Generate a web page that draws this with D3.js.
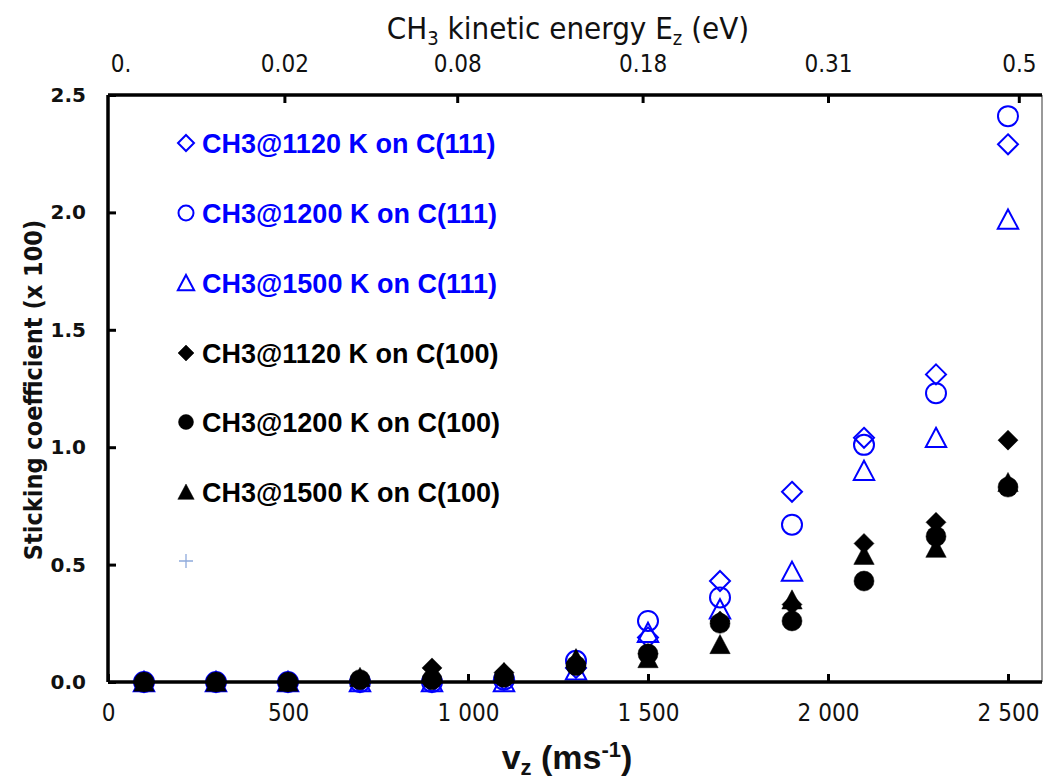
<!DOCTYPE html>
<html>
<head>
<meta charset="utf-8">
<script src="https://cdn.jsdelivr.net/npm/d3@7"></script>
<style>
  html, body { margin: 0; padding: 0; background: #fff; }
  svg { display: block; }
</style>
</head>
<body>
<svg id="chart" width="1044" height="779"></svg>
<script>
// ---------------- data ----------------
const velocities = [100, 300, 500, 700, 900, 1100, 1300, 1500, 1700, 1900, 2100, 2300, 2500];

const c111_1120 = [0, 0, 0, 0, 0, 0.01, 0.06, 0.19, 0.43, 0.81, 1.04, 1.31, 2.29];
const c111_1200 = [0, 0, 0, 0, 0, 0.01, 0.09, 0.26, 0.36, 0.67, 1.01, 1.23, 2.41];
const c111_1500 = [0, 0, 0, 0, 0, 0, 0.05, 0.21, 0.31, 0.47, 0.90, 1.04, 1.97];
const c100_1120 = [0, 0, 0, 0.01, 0.06, 0.04, 0.08, 0.12, 0.26, 0.33, 0.59, 0.68, 1.03];
const c100_1200 = [0, 0, 0, 0.01, 0.01, 0.02, 0.07, 0.12, 0.25, 0.26, 0.43, 0.62, 0.83];
const c100_1500 = [0, 0, 0, 0.02, 0.04, 0.04, 0.10, 0.10, 0.16, 0.35, 0.54, 0.57, 0.85];

const seriesNames = [
  "CH3@1120 K on C(111)", "CH3@1200 K on C(111)", "CH3@1500 K on C(111)",
  "CH3@1120 K on C(100)", "CH3@1200 K on C(100)", "CH3@1500 K on C(100)"
];

const yTicks = [0, 0.5, 1.0, 1.5, 2.0, 2.5];
const xTicks = [0, 500, 1000, 1500, 2000, 2500];
const topTickLabels = ["0.", "0.02", "0.08", "0.18", "0.31", "0.5"];
const topTickV = [35, 490, 970, 1485, 2000, 2530];

// ---------------- layout ----------------
const svg = d3.select("#chart");
const pL = 108, pR = 1044, pT = 95, pB = 682;

const x = d3.scaleLinear().domain([0, 2600]).range([pL, pR]);
const y = d3.scaleLinear().domain([0, 2.5]).range([pB, pT]);

const BLUE = "#0000ff";
const seriesStyle = [
  { shape: "diamond", filled: false, color: BLUE },
  { shape: "circle", filled: false, color: BLUE },
  { shape: "triangle", filled: false, color: BLUE },
  { shape: "diamond", filled: true, color: "#000" },
  { shape: "circle", filled: true, color: "#000" },
  { shape: "triangle", filled: true, color: "#000" }
];
const seriesData = [c111_1120, c111_1200, c111_1500, c100_1120, c100_1200, c100_1500];

function shapePath(shape, r) {
  const p = d3.path();
  if (shape === "circle") {
    p.arc(0, 0, r, 0, 2 * Math.PI);
  } else if (shape === "diamond") {
    p.moveTo(0, -r); p.lineTo(r, 0); p.lineTo(0, r); p.lineTo(-r, 0); p.closePath();
  } else if (shape === "triangle") {
    p.moveTo(0, -r); p.lineTo(r * 1.02, r * 0.92); p.lineTo(-r * 1.02, r * 0.92); p.closePath();
  } else if (shape === "plus") {
    p.moveTo(-r, 0); p.lineTo(r, 0); p.moveTo(0, -r); p.lineTo(0, r);
  }
  return p.toString();
}
const markerR = { circle: 10, diamond: 10, triangle: 10 };

// frame (right border thin)
svg.append("line").attr("x1", pR - 2).attr("x2", pR - 2).attr("y1", pT).attr("y2", pB)
  .attr("stroke", "#555").attr("stroke-width", 1.2);

// ---------------- points ----------------
const plot = svg.append("g");
seriesData.forEach((vals, si) => {
  const st = seriesStyle[si];
  plot.append("g").selectAll("path").data(velocities.map((v, i) => [v, vals[i]]))
    .join("path")
    .attr("transform", d => `translate(${x(d[0])},${y(d[1])})`)
    .attr("d", shapePath(st.shape, markerR[st.shape]))
    .attr("fill", st.filled ? st.color : "none")
    .attr("stroke", st.color)
    .attr("stroke-width", st.filled ? 0.5 : 2);
});

// ---------------- axes ----------------
const axisW = 3.5;
const condensed = "'Liberation Sans Narrow', 'DejaVu Sans Condensed', sans-serif";
// left
const gl = svg.append("g").attr("transform", `translate(${pL},0)`)
  .call(d3.axisLeft(y).tickValues(yTicks).tickSize(-8).tickFormat(d3.format(".1f")).tickPadding(20));
gl.attr("font-size", 20).attr("font-family", "DejaVu Sans");
gl.select(".domain").attr("stroke-width", axisW).attr("d", `M0,${pT}V${pB}`);
gl.selectAll(".tick line").attr("stroke-width", 3);
gl.selectAll(".tick text")
  .style("font-family", "'DejaVu Sans', Verdana, sans-serif")
  .style("font-weight", "bold").style("font-size", "20px").attr("fill", "#111").attr("x", -22);

// bottom
const gb = svg.append("g").attr("transform", `translate(0,${pB})`)
  .call(d3.axisBottom(x).tickValues(xTicks).tickSize(-8).tickPadding(22)
    .tickFormat(v => d3.format(",")(v).replace(/,/g, " ")));
gb.attr("font-size", null).attr("font-family", null);
gb.select(".domain").attr("stroke-width", axisW).attr("d", `M${pL},0H${pR - 2}`);
gb.selectAll(".tick line").attr("stroke-width", 3);
gb.selectAll(".tick text").style("font-family", condensed)
  .style("font-size", "24px").attr("fill", "#111");

// top
const gt = svg.append("g").attr("transform", `translate(0,${pT})`)
  .call(d3.axisTop(x).tickValues(topTickV).tickSize(-8).tickPadding(23)
    .tickFormat((d, i) => topTickLabels[i]));
gt.attr("font-size", null).attr("font-family", null);
gt.select(".domain").attr("stroke-width", axisW).attr("d", `M${pL},0H${pR - 2}`);
gt.selectAll(".tick line").attr("stroke-width", 3).filter((d, i) => i === 0).remove();
gt.selectAll(".tick text").style("font-family", condensed)
  .style("font-size", "24px").attr("fill", "#111");

// ---------------- titles ----------------
const topTitle = svg.append("text").attr("x", 568).attr("y", 39).attr("text-anchor", "middle")
  .style("font-family", condensed).style("font-size", "31px").attr("fill", "#111");
topTitle.append("tspan").text("CH");
topTitle.append("tspan").text("3").style("font-size", "20px").attr("dy", 6);
topTitle.append("tspan").text(" kinetic energy E").attr("dy", -6);
topTitle.append("tspan").text("z").style("font-size", "20px").attr("dy", 6);
topTitle.append("tspan").text(" (eV)").attr("dy", -6);

const bTitle = svg.append("text").attr("x", 567).attr("y", 769).attr("text-anchor", "middle")
  .style("font-family", "'Liberation Sans', Arial, sans-serif").style("font-weight", "bold")
  .style("font-size", "34px").attr("fill", "#111");
bTitle.append("tspan").text("v");
bTitle.append("tspan").text("z").style("font-size", "22px").attr("dy", 6);
bTitle.append("tspan").text(" (ms").attr("dy", -6);
bTitle.append("tspan").text("-1").style("font-size", "22px").attr("dy", -12);
bTitle.append("tspan").text(")").attr("dy", 12);

svg.append("text").attr("transform", `translate(42,390) rotate(-90)`).attr("text-anchor", "middle")
  .style("font-family", condensed).style("font-weight", "bold")
  .style("font-size", "25px").attr("fill", "#111").text("Sticking coefficient (x 100)");

// ---------------- legend ----------------
const legRows = [143, 213, 283, 353, 422, 492];
const leg = svg.append("g");
seriesNames.forEach((name, i) => {
  const st = seriesStyle[i];
  const r = 8;
  leg.append("path").attr("transform", `translate(186,${legRows[i]})`)
    .attr("d", shapePath(st.shape, st.shape === "circle" ? 7.5 : r))
    .attr("fill", st.filled ? st.color : "none").attr("stroke", st.color)
    .attr("stroke-width", st.filled ? 0.5 : 2);
  leg.append("text").attr("x", 202).attr("y", legRows[i]).attr("dy", "0.36em")
    .style("font-family", "'Liberation Sans', Arial, sans-serif").style("font-weight", "bold")
    .style("font-size", "27px").attr("fill", st.color === BLUE ? BLUE : "#000").text(name);
});
leg.append("path").attr("transform", "translate(186,561)").attr("d", shapePath("plus", 7))
  .attr("stroke", "#8faadc").attr("stroke-width", 1.3).attr("fill", "none");
</script>
</body>
</html>
